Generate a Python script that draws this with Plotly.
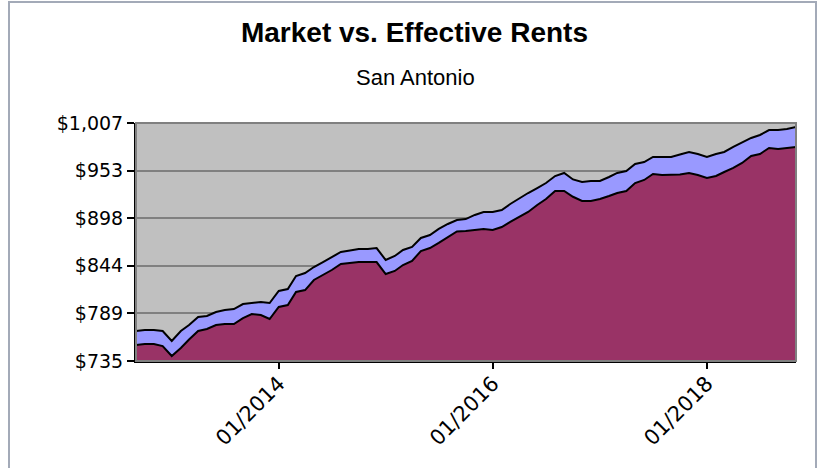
import pandas as pd
import plotly.graph_objects as go

# Monthly data, 09/2012 .. 11/2018
start_month = "2012-09-01"
n_months = 75
months = pd.date_range(start_month, periods=n_months, freq="MS")

market_rent = [
    769.3, 770.4, 770.4, 769.3, 757.9, 769.3, 776.1, 785.3, 786.4, 791.0, 793.3, 794.4,   # 09/12-08/13
    800.1, 801.3, 802.4, 801.3, 815.0, 817.3, 832.1, 835.6, 842.4, 848.1, 853.9, 859.6,   # 09/13-08/14
    861.3, 863.0, 863.0, 864.1, 850.4, 855.0, 861.9, 865.3, 875.6, 879.0, 885.9, 891.6,   # 09/14-08/15
    896.1, 897.2, 901.9, 905.3, 905.3, 907.6, 914.4, 921.3, 927.0, 932.7, 938.4, 946.4,   # 09/15-08/16
    949.9, 942.5, 939.6, 940.7, 940.7, 945.3, 949.9, 952.2, 960.2, 962.4, 968.2, 968.2,   # 09/16-08/17
    968.2, 971.0, 973.9, 971.6, 968.2, 971.6, 973.9, 979.6, 984.2, 989.9, 993.3, 999.0,   # 09/17-08/18
    999.0, 1000.2, 1002.4,                                                                # 09/18-11/18
]
effective_rent = [
    753.3, 754.4, 754.4, 752.1, 740.7, 749.9, 759.6, 769.3, 771.6, 776.1, 777.3, 777.3,
    784.1, 788.7, 787.6, 783.0, 796.7, 799.0, 813.9, 816.1, 827.6, 833.3, 839.0, 845.9,
    847.0, 848.1, 848.1, 848.1, 834.4, 837.9, 844.7, 849.3, 860.7, 864.1, 869.9, 876.7,
    883.0, 883.6, 884.7, 885.9, 884.7, 888.1, 893.9, 899.6, 905.3, 913.3, 920.1, 929.3,
    929.3, 922.7, 917.9, 917.9, 920.1, 923.6, 927.0, 929.3, 938.4, 941.9, 948.7, 947.6,
    947.6, 948.2, 949.9, 947.6, 944.1, 946.4, 951.0, 955.6, 961.3, 969.3, 971.6, 978.4,
    977.3, 978.4, 979.6,
]

y_tick_vals = [735, 789.4, 843.8, 898.2, 952.6, 1007]
y_tick_text = ["$735", "$789", "$844", "$898", "$953", "$1,007"]
x_tick_vals = ["2014-01-01", "2016-01-01", "2018-01-01"]
x_tick_text = ["01/2014", "01/2016", "01/2018"]

W, H = 824, 468
L, R, T, B = 136, 28, 123, 107
pw, ph = W - L - R, H - T - B

fig = go.Figure()
fig.add_trace(go.Scatter(
    x=months, y=effective_rent, name="Effective Rent", mode="lines",
    line=dict(color="black", width=2), fill="tozeroy", fillcolor="#993366",
))
fig.add_trace(go.Scatter(
    x=months, y=market_rent, name="Market Rent", mode="lines",
    line=dict(color="black", width=2), fill="tonexty", fillcolor="#9999FF",
))

def px_x(x):
    return (x - L) / pw

def px_y(y):
    return (H - B - y) / ph

fig.update_layout(
    width=W, height=H,
    margin=dict(l=L, r=R, t=T, b=B, pad=0),
    paper_bgcolor="white", plot_bgcolor="#C0C0C0",
    showlegend=False,
    title=dict(text="<b>Market vs. Effective Rents</b>", x=0.503, xref="container",
               xanchor="center", y=1 - 32 / H, yref="container", yanchor="middle",
               font=dict(family="Liberation Sans", size=28, color="black")),
    annotations=[dict(text="San Antonio", x=px_x(415), y=px_y(77), xref="paper", yref="paper",
                      showarrow=False, xanchor="center", yanchor="middle",
                      font=dict(family="Liberation Sans", size=22, color="black"))],
    shapes=[
        dict(type="rect", xref="paper", yref="paper", x0=0, x1=1, y0=0, y1=1,
             line=dict(color="#808080", width=2), layer="above"),
        dict(type="rect", xref="paper", yref="paper", x0=px_x(9), x1=px_x(816),
             y0=px_y(470), y1=px_y(2), line=dict(color="#A3AAB8", width=2), layer="above"),
    ],
    xaxis=dict(
        type="date", range=[months[0], months[-1]],
        tickmode="array", tickvals=x_tick_vals, ticktext=x_tick_text,
        tickangle=-45, ticks="outside", ticklen=6, tickwidth=2, tickcolor="black",
        ticklabelstandoff=-6,
        showgrid=False, showline=True, linecolor="black", linewidth=2,
        tickfont=dict(family="DejaVu Sans", size=21, color="black"),
        zeroline=False,
    ),
    yaxis=dict(
        range=[735, 1007], tickmode="array", tickvals=y_tick_vals, ticktext=y_tick_text,
        ticks="outside", ticklen=7, tickwidth=2, tickcolor="black",
        showgrid=True, gridcolor="#808080", gridwidth=2,
        showline=True, linecolor="black", linewidth=2, zeroline=False,
        tickfont=dict(family="DejaVu Sans", size=19, color="black"),
    ),
)

fig.write_html("out.html", config={"displayModeBar": False},
               post_script="document.body.style.margin='0px';")
